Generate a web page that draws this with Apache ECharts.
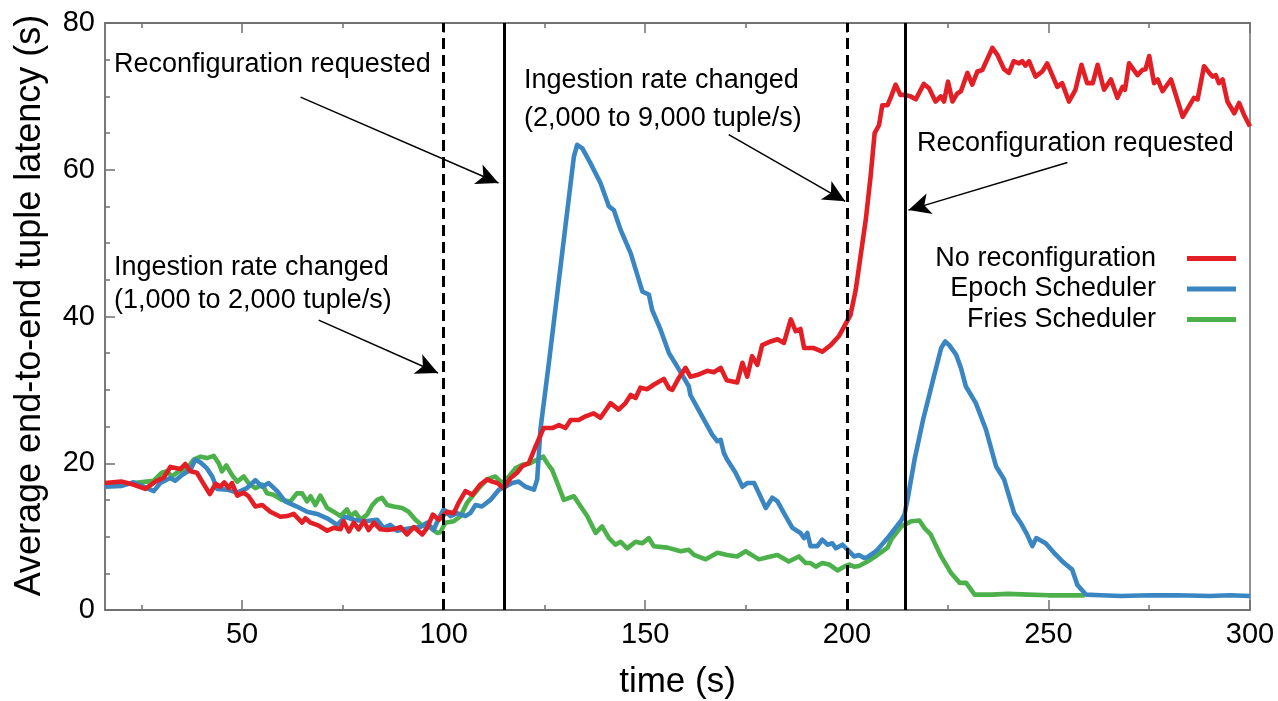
<!DOCTYPE html>
<html><head><meta charset="utf-8">
<script src="https://cdn.jsdelivr.net/npm/echarts@6/dist/echarts.min.js"></script>
<style>html,body{margin:0;padding:0;background:#fff}#c{width:1278px;height:701px}</style>
</head><body><div id="c"></div>
<script>
// ---- data (time s, latency s) ----
const noReconf = [[16,17.3],[18,17.4],[20,17.5],[23,17.1],[26,16.5],[28.5,17.5],[30.5,18.0],[32.2,19.5],[34.7,19.2],[35.9,19.9],[37.2,18.9],[38.8,18.7],[40.1,17.5],[42,15.8],[43.4,17.2],[44.6,16.8],[45.6,17.4],[46.7,16.6],[47.5,17.3],[48.8,15.6],[50.4,16.0],[51.6,15.5],[53.3,14.1],[55,14.3],[57,13.4],[59.5,12.7],[61.2,12.8],[62.8,13.1],[64.9,11.9],[65.7,12.5],[67,11.9],[69,11.5],[71.1,10.8],[72.7,11.2],[74.4,11.0],[75.2,12.1],[76.5,10.7],[77.7,11.9],[78.9,11.0],[80.2,12.1],[81.4,10.9],[82.7,11.9],[84.3,11.0],[86,10.9],[87.6,11.0],[89.3,11.3],[90.9,10.3],[92.6,11.3],[94.7,10.3],[95.9,11.2],[97.3,13.0],[98.8,12.3],[100.9,13.4],[102.5,13.2],[103.7,14.6],[105.4,16.2],[107.1,15.7],[109.1,17.1],[110.8,17.8],[112,17.5],[113.3,17.3],[114.9,16.6],[116.6,18.0],[118.2,18.7],[119.5,19.6],[121.1,20.0],[122.8,22.3],[124.8,24.8],[126.9,24.8],[128.6,25.2],[130.2,24.8],[131.5,25.9],[133.5,25.9],[135.2,26.4],[137.2,26.8],[138.9,26.2],[141.4,28.2],[143.4,27.3],[145.1,28.2],[146.4,29.3],[147.6,28.9],[148.8,30.3],[150.5,30.1],[152.1,30.7],[154.6,31.5],[155.9,30.2],[156.7,30.0],[158.3,31.6],[160,33.0],[161.2,31.8],[163.3,32.1],[165.4,32.6],[167,32.4],[168.7,33.0],[170.2,31.3],[172.8,31.0],[174.1,33.7],[175.3,31.8],[176.5,34.6],[177.8,33.4],[179,36.1],[181.1,36.6],[182.8,36.9],[184.4,36.4],[186.1,39.6],[187.3,38.0],[188.5,38.3],[189.4,35.7],[191.8,35.7],[193.9,35.2],[196,36.1],[198,37.3],[199.7,39.0],[200.9,40.2],[202.2,43.6],[203.4,48.2],[204.7,53.2],[205.9,59.1],[206.9,65.0],[208,66.1],[208.8,68.8],[210.1,68.8],[211,70.0],[212.1,71.6],[213.3,70.2],[214.5,70.2],[215.8,70.0],[217.1,69.6],[219.1,71.7],[220.4,71.1],[222,69.3],[223.3,70.0],[224.1,69.3],[225.1,72.0],[226.2,69.3],[227.4,70.4],[228.3,70.7],[229.9,73.2],[231.1,71.6],[232.4,73.4],[233.6,73.6],[236.1,76.6],[237.3,75.7],[239,73.7],[240.2,73.2],[241.4,74.8],[242.7,74.5],[243.5,74.8],[244.3,74.2],[245.2,74.8],[246.8,72.7],[248.5,73.4],[249.7,74.5],[252.2,71.3],[253.4,71.8],[255.1,69.3],[256.7,70.9],[258.2,74.3],[259.6,71.8],[261,71.8],[262.2,74.3],[263.8,70.9],[265.5,72.3],[267.1,69.8],[268.4,71.3],[269,70.9],[270,74.5],[272.1,72.9],[273.3,73.6],[274.1,73.7],[275,75.5],[276.2,71.8],[277.1,72.3],[278.3,70.7],[280.4,72.3],[283.3,67.2],[286.1,69.8],[287,69.6],[288.6,74.1],[289.9,73.2],[290.7,72.7],[291.5,72.9],[292.3,71.8],[293.2,72.3],[294.4,69.3],[296.1,67.7],[297.3,69.1],[298.5,67.5],[300,65.9]];
const epoch = [[16,16.8],[20,16.9],[23.1,17.4],[25.6,16.8],[28.1,16.2],[29.7,17.3],[32.2,18.0],[33.4,17.6],[35.1,18.4],[37.2,19.1],[38.4,20.5],[39.7,20.1],[41.3,19.3],[42.6,18.2],[43.8,16.5],[46.3,16.4],[48.8,16.0],[51.2,16.6],[53.3,17.7],[55,16.8],[56.6,17.3],[58.7,16.2],[60.7,14.8],[63.6,14.1],[66.1,13.4],[68.6,13.1],[71.1,12.5],[73.6,11.6],[75.6,12.7],[77.7,12.3],[80.2,12.1],[83.5,12.3],[85.1,11.2],[86.8,11.6],[88.5,10.8],[90.1,11.0],[92.6,11.2],[94.2,11.3],[95.9,11.9],[97.5,10.9],[98.8,12.5],[100,13.7],[101.7,12.8],[103.3,13.2],[105.4,12.8],[106.6,13.2],[107.9,14.3],[109.5,14.1],[111.6,15.0],[113.7,16.4],[115.3,16.8],[117,17.3],[118.6,17.5],[120.3,16.8],[122.4,16.4],[123.2,17.8],[124,24.6],[126.1,33.7],[128.2,43.2],[130.6,54.1],[132.3,61.8],[133.1,63.4],[134.4,62.9],[136.4,60.9],[138.9,58.2],[141,55.0],[142.2,54.5],[143.9,51.8],[146.4,48.6],[149.3,43.4],[150.9,43.0],[151.7,40.9],[153.8,38.2],[155.9,35.0],[157.9,33.2],[160.8,30.5],[161.2,29.3],[163.7,26.8],[166.6,23.9],[167.9,23.0],[168.7,23.2],[169.5,21.4],[170.3,20.5],[172.4,18.7],[174.1,16.8],[175.3,17.3],[177,17.3],[178.2,15.9],[179.9,13.9],[181.5,15.3],[182.8,14.8],[184.4,13.2],[186.5,11.2],[188.5,10.5],[189.4,9.8],[190.2,10.5],[191,8.7],[192.7,8.7],[193.9,9.6],[195.2,8.9],[196.4,9.1],[197.3,8.4],[198.9,8.9],[200.6,8.0],[201.8,7.3],[203,7.5],[204.3,7.1],[205.1,7.2],[206.7,7.8],[207.6,8.2],[210.1,9.8],[213.5,12.2],[214.3,13.0],[215.2,15.5],[216.8,20.5],[218.9,25.9],[221.4,31.4],[223.4,35.7],[224.4,36.6],[225.4,36.1],[227.1,34.8],[228.3,33.0],[229.5,30.5],[232,28.2],[234.5,24.6],[237,19.6],[239,17.8],[241.5,13.2],[243.1,11.9],[244.7,10.3],[246,8.7],[247,9.8],[249.3,9.1],[251.4,7.8],[253.9,6.4],[255.9,5.5],[257.2,3.4],[259.3,2.1],[263,2.0],[268,1.9],[275,2.0],[282,2.0],[290,1.9],[295,2.0],[300,1.9]];
const fries = [[16,17.1],[20,17.2],[23.1,17.3],[26.4,17.5],[28,17.6],[30.1,18.7],[31.4,18.9],[32.6,18.2],[34.3,18.9],[36.4,19.3],[38,20.5],[39.7,20.9],[41.3,20.7],[43,21.0],[44.2,20.0],[45,18.9],[46.1,19.7],[47.5,18.4],[48.8,17.5],[50.4,18.2],[51.6,17.3],[53.3,16.6],[55,17.1],[56.2,15.9],[57.8,15.7],[59.9,15.0],[62,14.8],[63.6,15.9],[64.9,15.9],[66.1,14.8],[67,15.5],[68.2,14.3],[69.4,15.6],[71.1,13.9],[72.7,13.4],[74.4,12.8],[76,13.7],[76.9,12.8],[78.1,13.3],[79.4,12.3],[81,13.0],[82.3,14.3],[83.5,15.0],[84.7,15.3],[86,14.3],[87.6,14.1],[89.7,13.9],[91.3,13.4],[93,12.3],[94.7,11.5],[96.3,11.4],[98.4,10.5],[99.2,10.6],[100.4,11.9],[102.5,12.1],[104.2,12.8],[105.8,14.6],[107.1,15.5],[108.7,16.6],[110.8,17.8],[112.8,18.2],[114.5,17.3],[116.2,18.2],[117.8,19.3],[119.5,19.8],[121.5,20.0],[123.2,20.5],[124.7,20.9],[125.7,20.0],[126.9,19.1],[128.2,17.3],[129.8,15.0],[132.3,15.5],[134,14.1],[135.6,12.8],[137.7,10.5],[139.3,11.4],[141,9.8],[142.6,8.9],[143.9,9.3],[145.5,8.4],[147.6,9.3],[149.3,9.1],[150.9,9.8],[152.1,8.7],[155.5,8.5],[158.8,8.0],[160.8,8.2],[162.1,7.5],[165,6.9],[167.9,7.8],[170.3,7.5],[172.8,7.3],[174.9,8.0],[178.2,6.9],[181.1,7.3],[182.8,7.5],[185.6,6.6],[188.1,7.3],[189.8,6.4],[191,6.4],[192.3,5.9],[193.9,6.4],[195.6,6.2],[197.7,5.4],[199.3,5.9],[200.6,6.2],[201.8,5.9],[203,6.0],[205.1,6.6],[207.6,7.5],[210.1,8.5],[211,9.6],[213.5,11.4],[216,12.1],[218,12.2],[219.2,11.2],[220.8,10.3],[223.4,7.3],[225.9,5.0],[228,3.7],[229.6,3.7],[231.7,2.1],[236,2.1],[240,2.2],[245,2.1],[250,2.0],[255,2.0],[259,2.0]];

const seriesNames = ['No reconfiguration', 'Epoch Scheduler', 'Fries Scheduler'];
const xMajorTicks = [50, 100, 150, 200, 250, 300];
const xMinorTicks = [25, 75, 125, 175, 225, 275];
const rateChanges = [100, 200];        // dashed lines
const reconfRequests = [115, 214.6];   // solid lines
// annotation arrows: [from, to] in data coords
const arrows = [
  [[64.5, 69.9], [113.6, 58.2]],
  [[69.0, 39.5], [98.6, 32.3]],
  [[170.7, 64.8], [199.6, 55.7]],
  [[254.7, 61.0], [215.3, 54.5]]
];
const notes = [
  {text: 'Reconfiguration requested', x: 114, y: 65.5},
  {text: 'Ingestion rate changed', x: 114, y: 268.5},
  {text: '(1,000 to 2,000 tuple/s)', x: 114, y: 301.5},
  {text: 'Ingestion rate changed', x: 524, y: 81},
  {text: '(2,000 to 9,000 tuple/s)', x: 524, y: 119},
  {text: 'Reconfiguration requested', x: 917, y: 144}
];

const FONT = '"Liberation Sans", Arial, Helvetica, sans-serif';
const AX = '#707070';
const colors = {red: '#e31e24', blue: '#3a86c3', green: '#4cb14a'};

const chart = echarts.init(document.getElementById('c'), null, {renderer: 'canvas'});
const gridRect = {left: 105, right: 28, top: 23, bottom: 91, outerBoundsMode: 'none', containLabel: false};

function xAx(gridIndex, position, ticks, len, labels) {
  return {
    type: 'value', gridIndex, position, min: 16, max: 300,
    splitLine: {show: false},
    axisLine: {show: true, onZero: false, lineStyle: {color: AX, width: 1.5}},
    axisTick: {show: true, inside: true, length: len, customValues: ticks, lineStyle: {color: AX, width: 1.5}},
    axisLabel: labels ? {show: true, customValues: ticks, fontSize: 29, color: '#000', fontFamily: FONT, margin: 10} : {show: false},
    name: labels ? 'time (s)' : '',
    nameLocation: 'middle', nameGap: 55,
    nameTextStyle: {fontSize: 35, color: '#000', fontFamily: FONT}
  };
}

const lineSeries = (name, data, color) => ({
  name, type: 'line', data, xAxisIndex: 0, yAxisIndex: 0,
  showSymbol: false, symbol: 'none', silent: true, animation: false,
  lineStyle: {color, width: 4.6, join: 'round'}, itemStyle: {color}
});

chart.setOption({
  backgroundColor: '#fff',
  animation: false,
  grid: [
    Object.assign({show: true, borderColor: AX, borderWidth: 1.5, backgroundColor: 'transparent'}, gridRect),
    Object.assign({show: false}, gridRect)
  ],
  xAxis: [
    xAx(0, 'bottom', xMajorTicks, 10, true),
    xAx(0, 'top', xMajorTicks, 10, false),
    xAx(1, 'bottom', xMinorTicks, 5, false),
    xAx(1, 'top', xMinorTicks, 5, false)
  ],
  yAxis: [
    {
      type: 'value', gridIndex: 0, min: 0, max: 80, interval: 20,
      splitLine: {show: false},
      axisLine: {show: true, lineStyle: {color: AX, width: 1.5}},
      axisTick: {show: true, inside: true, length: 10, lineStyle: {color: AX, width: 1.5}},
      minorTick: {show: true, splitNumber: 4, length: 5, lineStyle: {color: AX, width: 1.5}},
      axisLabel: {fontSize: 29, color: '#000', fontFamily: FONT, margin: 10},
      name: 'Average end-to-end tuple latency (s)',
      nameLocation: 'middle', nameGap: 57,
      nameTextStyle: {fontSize: 36, color: '#000', fontFamily: FONT, padding: [0, 0, 0, 22]}
    },
    {type: 'value', gridIndex: 1, min: 0, max: 80, show: false}
  ],
  legend: {
    data: seriesNames, orient: 'vertical', right: 37, top: 240, align: 'right',
    icon: 'rect', itemWidth: 49, itemHeight: 5, itemGap: 3.5, selectedMode: false,
    textStyle: {fontSize: 27, lineHeight: 27, color: '#000', fontFamily: FONT, padding: [0, 26, 0, 0]}
  },
  series: [
    lineSeries(seriesNames[2], fries, colors.green),
    lineSeries(seriesNames[1], epoch, colors.blue),
    lineSeries(seriesNames[0], noReconf, colors.red),
    {
      type: 'line', name: 'events', data: [], xAxisIndex: 0, yAxisIndex: 0, silent: true, z: 5,
      markLine: {
        symbol: 'none', silent: true, animation: false, label: {show: false},
        data: rateChanges.map(x => ({xAxis: x, lineStyle: {color: '#000', width: 3, type: [11, 6]}}))
          .concat(reconfRequests.map(x => ({xAxis: x, lineStyle: {color: '#000', width: 3, type: 'solid'}})))
      }
    },
    {
      type: 'line', name: 'arrows', data: [], xAxisIndex: 0, yAxisIndex: 0, silent: true, z: 6,
      markLine: {
        symbol: ['none', 'arrow'], symbolSize: [16, 22], silent: true, animation: false,
        label: {show: false},
        lineStyle: {color: '#000', width: 1.5, type: 'solid'},
        emphasis: {disabled: true},
        data: arrows.map(a => [{coord: a[0]}, {coord: a[1]}])
      }
    }
  ],
  graphic: notes.map(n => ({
    type: 'text', left: n.x, top: n.y - 14, silent: true,
    style: {text: n.text, fontSize: 27, fontFamily: FONT, fill: '#000', textVerticalAlign: 'top'}
  }))
});
</script>
</body></html>
